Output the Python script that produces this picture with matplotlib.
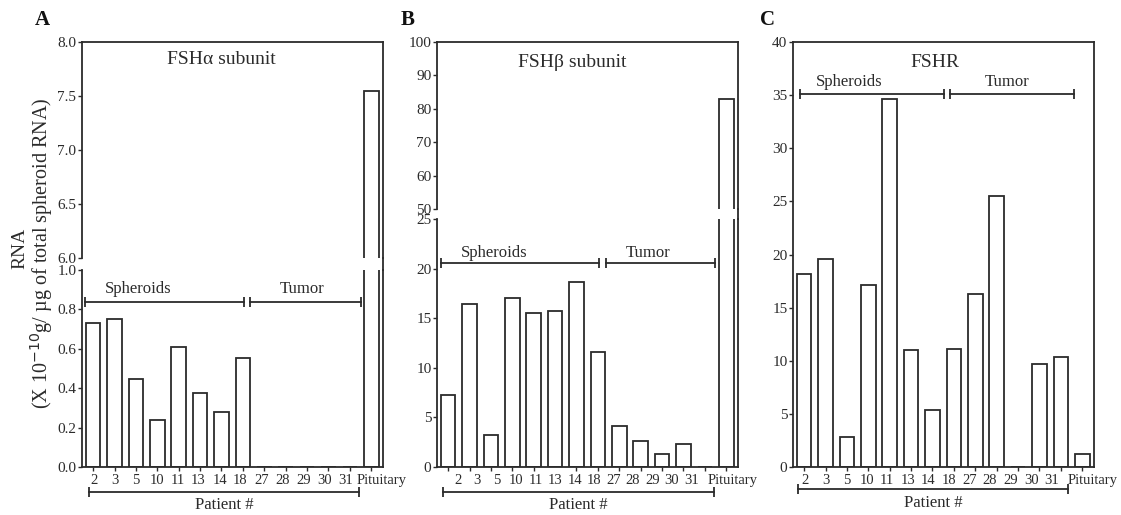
import matplotlib
matplotlib.use("Agg")
import matplotlib.pyplot as plt
from matplotlib.lines import Line2D
from matplotlib.transforms import blended_transform_factory
import numpy as np

plt.rcParams['font.family'] = ['Liberation Serif', 'DejaVu Serif']

patients = ['2', '3', '5', '10', '11', '13', '14', '18', '27', '28', '29', '30', '31', 'Pituitary']
fsh_alpha = [0.73, 0.75, 0.447, 0.238, 0.607, 0.374, 0.278, 0.552, 0, 0, 0, 0, 0, 7.55]
fsh_beta = [7.26, 16.4, 3.2, 17.0, 15.5, 15.76, 18.68, 11.6, 4.13, 2.65, 1.28, 2.3, 0, 82.8]
fshr = [18.16, 19.6, 2.85, 17.1, 34.6, 11.0, 5.36, 11.1, 16.3, 25.5, 0, 9.7, 10.4, 1.22]

W, H = 1121, 515
fig = plt.figure(figsize=(W / 100, H / 100), dpi=100)
C = '#2b2b2b'
LW = 1.3


def fr(x0, y0, x1, y1):
    return [x0 / W, 1 - y1 / H, (x1 - x0) / W, (y1 - y0) / H]


x = np.arange(len(patients))
XLIM = (-0.52, 13.55)
BW = 0.68


def style(ax, yt, fmt):
    ax.set_xlim(*XLIM)
    ax.set_yticks(yt)
    ax.set_yticklabels([fmt.format(v) for v in yt], fontsize=11, color=C)
    ax.tick_params(axis='y', direction='out', length=3, width=1, color=C, pad=1)
    for s in ax.spines.values():
        s.set_color(C)
        s.set_linewidth(LW)


def bars(ax, vals):
    ax.bar(x, vals, width=BW, color='white', edgecolor=C, linewidth=LW)


def xlabels(ax, pos):
    ax.set_xticks(x, minor=True)
    ax.tick_params(axis='x', which='minor', direction='out', length=3, width=1, color=C)
    ax.set_xticks(pos)
    ax.set_xticklabels(patients, fontsize=10.5, color=C)
    ax.tick_params(axis='x', which='major', length=0, pad=5)


def bracket(ax, x0, x1, y, transform=None):
    tr = transform if transform is not None else ax.transData
    ax.plot([x0, x1], [y, y], color=C, lw=1.3, transform=tr, clip_on=False)
    ax.plot([x0, x1], [y, y], ls='none', marker='|', ms=7, mew=1.3, color=C,
            transform=tr, clip_on=False)


def group_brackets(ax, ys, yt, s0, s1, t0, t1, sx, tx):
    bracket(ax, s0, s1, ys)
    bracket(ax, t0, t1, ys)
    ax.text(sx, yt, 'Spheroids', ha='center', va='center', fontsize=12, color=C)
    ax.text(tx, yt, 'Tumor', ha='center', va='center', fontsize=12, color=C)


def patient_bracket(ax, x0, x1, yb, ytext):
    tr = blended_transform_factory(ax.transData, fig.transFigure)
    bracket(ax, x0, x1, 1 - yb / H, transform=tr)
    ax.text((x0 + x1) / 2, 1 - ytext / H, 'Patient #', transform=tr,
            ha='center', va='center', fontsize=12, color=C)


def right_link(x_px, y0, y1):
    fig.add_artist(Line2D([x_px / W, x_px / W], [1 - y1 / H, 1 - y0 / H],
                          color=C, lw=LW, transform=fig.transFigure))


# ---------------- Panel A ----------------
axA1 = fig.add_axes(fr(82, 42, 383, 258))
axA2 = fig.add_axes(fr(82, 270, 383, 467))
for ax in (axA1, axA2):
    bars(ax, fsh_alpha)
axA1.set_ylim(6.0, 8.0)
axA2.set_ylim(0, 1.0)
style(axA1, [6.0, 6.5, 7.0, 7.5, 8.0], '{:.1f}')
style(axA2, [0.0, 0.2, 0.4, 0.6, 0.8, 1.0], '{:.1f}')
axA1.spines['bottom'].set_visible(False)
axA2.spines['top'].set_visible(False)
axA1.set_xticks([])
xlabels(axA2, [0.03 + 0.98 * i for i in range(13)] + [13.5])
right_link(383, 258, 270)
axA1.text(0.462, 0.921, 'FSH\u03b1 subunit', transform=axA1.transAxes,
          ha='center', va='center', fontsize=14, color=C)
group_brackets(axA2, 0.837, 0.904, -0.37, 7.06, 7.34, 12.52, 2.1, 9.77)
patient_bracket(axA2, -0.19, 12.43, 492, 505)

# ---------------- Panel B ----------------
axB1 = fig.add_axes(fr(437, 42, 738, 209))
axB2 = fig.add_axes(fr(437, 219, 738, 467))
for ax in (axB1, axB2):
    bars(ax, fsh_beta)
axB1.set_ylim(50, 100)
axB2.set_ylim(0, 25)
style(axB1, [50, 60, 70, 80, 90, 100], '{:d}')
style(axB2, [0, 5, 10, 15, 20, 25], '{:d}')
axB1.spines['bottom'].set_visible(False)
axB2.spines['top'].set_visible(False)
axB1.set_xticks([])
xlabels(axB2, [0.45 + 0.91 * i for i in range(13)] + [13.3])
right_link(738, 209, 219)
axB1.text(0.449, 0.88, 'FSH\u03b2 subunit', transform=axB1.transAxes,
          ha='center', va='center', fontsize=14, color=C)
group_brackets(axB2, 20.56, 21.57, -0.33, 7.06, 7.38, 12.48, 2.15, 9.35)
patient_bracket(axB2, -0.23, 12.43, 492, 505)

# ---------------- Panel C ----------------
axC = fig.add_axes(fr(793, 42, 1094, 467))
bars(axC, fshr)
axC.set_ylim(0, 40)
style(axC, [0, 5, 10, 15, 20, 25, 30, 35, 40], '{:d}')
xlabels(axC, [0.05 + 0.96 * i for i in range(13)] + [13.5])
axC.text(0.472, 0.951, 'FSHR', transform=axC.transAxes,
         ha='center', va='center', fontsize=14, color=C)
group_brackets(axC, 35.1, 36.2, -0.19, 6.54, 6.82, 12.62, 2.1, 9.5)
patient_bracket(axC, -0.28, 12.34, 489, 503)

# ---------------- Labels ----------------
for lbl, px in (('A', 42), ('B', 408), ('C', 768)):
    fig.text(px / W, 1 - 20 / H, lbl, ha='center', va='center',
             fontsize=15, fontweight='bold', color='#111111')

fig.text(20 / W, 1 - 248 / H, 'RNA', rotation=90, ha='center', va='center',
         fontsize=14, color=C)
fig.text(42 / W, 1 - 253 / H, '(X 10$^{-10}$g/ \u00b5g of total spheroid RNA)',
         rotation=90, ha='center', va='center', fontsize=14.5, color=C)

fig.savefig('out.png', dpi=100)
